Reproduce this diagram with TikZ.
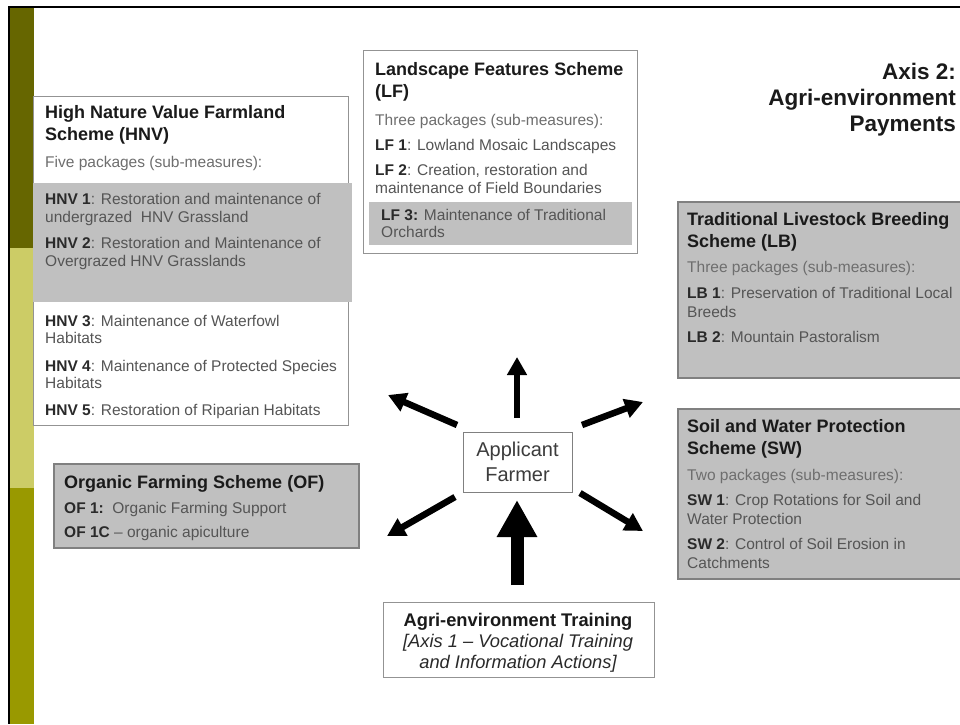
\documentclass[tikz,border=0pt]{standalone}
\usepackage{fontspec}
\setmainfont{Liberation Sans}
\usetikzlibrary{arrows.meta,shadows}
\definecolor{olivedark}{HTML}{666600}
\definecolor{olivelight}{HTML}{CCCC66}
\definecolor{olivemid}{HTML}{999900}
\definecolor{boxgray}{HTML}{C0C0C0}
\definecolor{bodytext}{HTML}{555555}
\definecolor{subtext}{HTML}{6E6E6E}
\definecolor{headtext}{HTML}{1A1A1A}
\definecolor{codetext}{HTML}{2A2A2A}
\definecolor{edgegray}{HTML}{808080}
\newcommand{\cd}[1]{\textcolor{codetext}{\textbf{#1}}}
\begin{document}
\begin{tikzpicture}[x=1pt,y=-1pt,
  hd/.style={anchor=base west, inner sep=0, font=\fontsize{18}{22}\selectfont\bfseries, text=headtext},
  sub/.style={anchor=base west, inner sep=0, font=\fontsize{15.5}{18}\selectfont, text=subtext},
  bd/.style={anchor=base west, inner sep=0, font=\fontsize{15.5}{18}\selectfont, text=bodytext},
  whitebox/.style={draw=edgegray!85, line width=1pt, fill=white, anchor=north west, inner sep=0},
  graybox/.style={draw=edgegray, line width=1.5pt, fill=boxgray, anchor=north west, inner sep=0,
     drop shadow={shadow xshift=1.5pt, shadow yshift=-1.5pt, opacity=0.35, fill=black}},
  thinarrow/.style={line width=6.5pt, -{Triangle[length=18pt,width=19pt]}},
  thickarrow/.style={line width=13pt, -{Triangle[length=37pt,width=38pt]}},
]
\useasboundingbox (0,0) rectangle (960,724);
\fill[white] (0,0) rectangle (960,724);
% side bar and frame
\fill[olivedark] (10,7) rectangle (34,248);
\fill[olivelight] (10,248) rectangle (34,488);
\fill[olivemid] (10,488) rectangle (34,724);
\draw[line width=2pt] (8,7) -- (960,7);
\draw[line width=2pt] (9,7) -- (9,724);

% HNV box
\node[whitebox, minimum width=315pt, minimum height=329pt] (hnv) at (33,96) {};
\fill[boxgray] (33,183) rectangle (352,302);
\node[hd] (hnvt1) at (45,118) {High Nature Value Farmland};
\node[hd] (hnvt2) at (45,140) {Scheme (HNV)};
\node[sub] (hnvs) at (45,167) {Five packages (sub-measures):};
\node[bd] (hnv1a) at (45,204) {\cd{HNV 1}: Restoration and maintenance of};
\node[bd] (hnv1b) at (45,222) {undergrazed\ \ HNV Grassland};
\node[bd] (hnv2a) at (45,248) {\cd{HNV 2}: Restoration and Maintenance of};
\node[bd] (hnv2b) at (45,266) {Overgrazed HNV Grasslands};
\node[bd] (hnv3a) at (45,326) {\cd{HNV 3}: Maintenance of Waterfowl};
\node[bd] (hnv3b) at (45,343) {Habitats};
\node[bd] (hnv4a) at (45,371) {\cd{HNV 4}: Maintenance of Protected Species};
\node[bd] (hnv4b) at (45,388) {Habitats};
\node[bd] (hnv5a) at (45,415) {\cd{HNV 5}: Restoration of Riparian Habitats};

% LF box
\node[whitebox, minimum width=274pt, minimum height=203pt] (lf) at (363,50) {};
\fill[boxgray] (369,202) rectangle (632,245);
\node[hd] (lft1) at (375,75) {Landscape Features Scheme};
\node[hd] (lft2) at (375,97) {(LF)};
\node[sub] (lfs) at (375,125) {Three packages (sub-measures):};
\node[bd] (lf1) at (375,150) {\cd{LF 1}: Lowland Mosaic Landscapes};
\node[bd] (lf2a) at (375,175) {\cd{LF 2}: Creation, restoration and};
\node[bd] (lf2b) at (375,193) {maintenance of Field Boundaries};
\node[bd] (lf3a) at (381,220) {\cd{LF 3:} Maintenance of Traditional};
\node[bd] (lf3b) at (381,237) {Orchards};

% Axis title
\begin{scope}[every node/.style={anchor=base east, inner sep=0, font=\fontsize{22.5}{26}\selectfont\bfseries, text=headtext}]
\node (ax1) at (956,79) {Axis 2:};
\node (ax2) at (956,105) {Agri-environment};
\node (ax3) at (956,131) {Payments};
\end{scope}

% LB box
\node[graybox, minimum width=290pt, minimum height=176pt] (lb) at (677,201) {};
\node[hd] (lbt1) at (687,225) {Traditional Livestock Breeding};
\node[hd] (lbt2) at (687,247) {Scheme (LB)};
\node[sub] (lbs) at (687,272) {Three packages (sub-measures):};
\node[bd] (lb1a) at (687,298) {\cd{LB 1}: Preservation of Traditional Local};
\node[bd] (lb1b) at (687,317) {Breeds};
\node[bd] (lb2) at (687,342) {\cd{LB 2}: Mountain Pastoralism};

% SW box
\node[graybox, minimum width=290pt, minimum height=170pt] (sw) at (677,408) {};
\node[hd] (swt1) at (687,432) {Soil and Water Protection};
\node[hd] (swt2) at (687,454) {Scheme (SW)};
\node[sub] (sws) at (687,480) {Two packages (sub-measures):};
\node[bd] (sw1a) at (687,505) {\cd{SW 1}: Crop Rotations for Soil and};
\node[bd] (sw1b) at (687,524) {Water Protection};
\node[bd] (sw2a) at (687,549) {\cd{SW 2}: Control of Soil Erosion in};
\node[bd] (sw2b) at (687,568) {Catchments};

% OF box
\node[graybox, minimum width=305pt, minimum height=84pt] (of) at (53,463) {};
\node[hd] (oft) at (64,488) {Organic Farming Scheme (OF)};
\node[bd] (of1) at (64,513) {\cd{OF 1:}\ \ Organic Farming Support};
\node[bd] (of2) at (64,537) {\cd{OF 1C} -- organic apiculture};

% Applicant farmer
\node[draw=edgegray, line width=1pt, fill=white, minimum width=109pt, minimum height=60pt, inner sep=0,
      align=center, font=\fontsize{20}{25}\selectfont, text=headtext!85] (farmer) at (517.5,462) {Applicant\\Farmer};

% Training
\node[draw=edgegray!85, line width=1pt, fill=white, minimum width=271pt, minimum height=75pt, inner sep=0] (train) at (518.5,639.5) {};
\node[anchor=base, inner sep=0, font=\fontsize{18.3}{22}\selectfont\bfseries, text=headtext] (tr1) at (518,626) {Agri-environment Training};
\node[anchor=base, inner sep=0, font=\fontsize{18.3}{22}\selectfont\itshape, text=codetext] (tr2) at (518,647) {[Axis 1 -- Vocational Training};
\node[anchor=base, inner sep=0, font=\fontsize{18.3}{22}\selectfont\itshape, text=codetext] (tr3) at (518,668) {and Information Actions]};

% arrows
\coordinate (upS) at (517,418);  \coordinate (upE) at (517,357);
\coordinate (ulS) at (457,425);  \coordinate (ulE) at (388,395);
\coordinate (urS) at (582,425);  \coordinate (urE) at (643,402);
\coordinate (llS) at (455,497);  \coordinate (llE) at (387,536);
\coordinate (lrS) at (580,493);  \coordinate (lrE) at (643,531);
\coordinate (bgS) at (517,585);  \coordinate (bgE) at (517,500);
\draw[thinarrow] (upS) -- (upE);
\draw[thinarrow] (ulS) -- (ulE);
\draw[thinarrow] (urS) -- (urE);
\draw[thinarrow] (llS) -- (llE);
\draw[thinarrow] (lrS) -- (lrE);
\draw[thickarrow] (bgS) -- (bgE);
\end{tikzpicture}
\end{document}
